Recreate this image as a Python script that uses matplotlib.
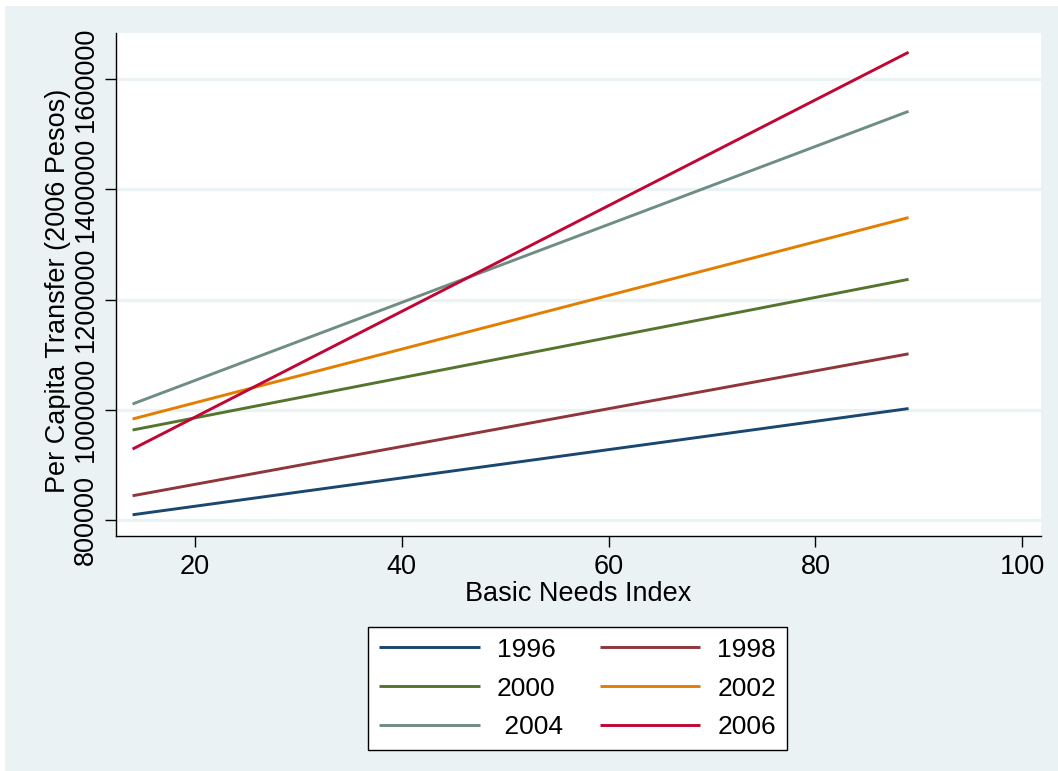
import numpy as np
import matplotlib.pyplot as plt
from matplotlib.patches import Rectangle

plt.rcParams['font.family'] = ['Liberation Sans', 'DejaVu Sans']

# fitted lines at the two ends of the index range
years = ['1996', '1998', '2000', '2002', ' 2004', '2006']
x_ends = [14, 89]
y_start = [809500, 844000, 963300, 983300, 1010500, 928700]
y_end = [1002200, 1101500, 1236700, 1348700, 1541500, 1648700]
colors = ['#1a476f', '#90353b', '#55752f', '#e37e00', '#6e8e84', '#c10534']

x_ticks = [20, 40, 60, 80, 100]
y_ticks = [800000, 1000000, 1200000, 1400000, 1600000]

bg = '#eaf2f3'

fig = plt.figure(figsize=(10.58, 7.71), dpi=100)
fig.patch.set_facecolor(bg)
# white strip where the page was cut off
fig.patches.append(Rectangle((0, 1 - 6 / 771), 1, 6 / 771, transform=fig.transFigure,
                             facecolor='white', edgecolor='none', zorder=0))
fig.patches.append(Rectangle((0, 0), 5 / 1058, 1, transform=fig.transFigure,
                             facecolor='white', edgecolor='none', zorder=0))

ax = fig.add_axes([116 / 1058, 1 - 536 / 771, 925 / 1058, 503 / 771])
ax.set_facecolor('white')

lines = []
for i in range(len(years)):
    ln, = ax.plot(x_ends, [y_start[i], y_end[i]], color=colors[i], lw=2.1,
                  label=years[i], solid_capstyle='butt')
    lines.append(ln)

ax.set_xlim(12.4, 101.8)
ax.set_ylim(771000, 1683600)
ax.set_xticks(x_ticks)
ax.set_yticks(y_ticks)
ax.set_yticklabels([str(v) for v in y_ticks], rotation=90, va='center')

ax.grid(axis='y', color=bg, lw=2.3)
ax.set_axisbelow(True)
for s in ['top', 'right']:
    ax.spines[s].set_visible(False)
for s in ['left', 'bottom']:
    ax.spines[s].set_linewidth(1.0)
    ax.spines[s].set_color('black')

ax.tick_params(axis='x', length=8, width=1, labelsize=19.5, pad=5)
ax.tick_params(axis='y', length=8, width=1, labelsize=19.5, pad=4)

ax.set_xlabel('Basic Needs Index', fontsize=19.5)
ax.set_ylabel('Per Capita Transfer (2006 Pesos)', fontsize=19.5)
ax.xaxis.set_label_coords(0.5, -0.09)
ax.yaxis.set_label_coords(-0.049, 0.487)

# stata fills the legend row by row
order = [0, 2, 4, 1, 3, 5]
leg = fig.legend([lines[i] for i in order], [years[i] for i in order],
                 loc='center', bbox_to_anchor=(0.546, 0.107), ncol=2,
                 fontsize=19, handlelength=3.8, handletextpad=0.65,
                 columnspacing=1.4, labelspacing=0.56, borderpad=0.42,
                 fancybox=False, framealpha=1, edgecolor='black')
leg.get_frame().set_linewidth(1.0)
for line in leg.get_lines():
    line.set_linewidth(2.1)

fig.savefig('out.png', dpi=100, facecolor=fig.get_facecolor())
